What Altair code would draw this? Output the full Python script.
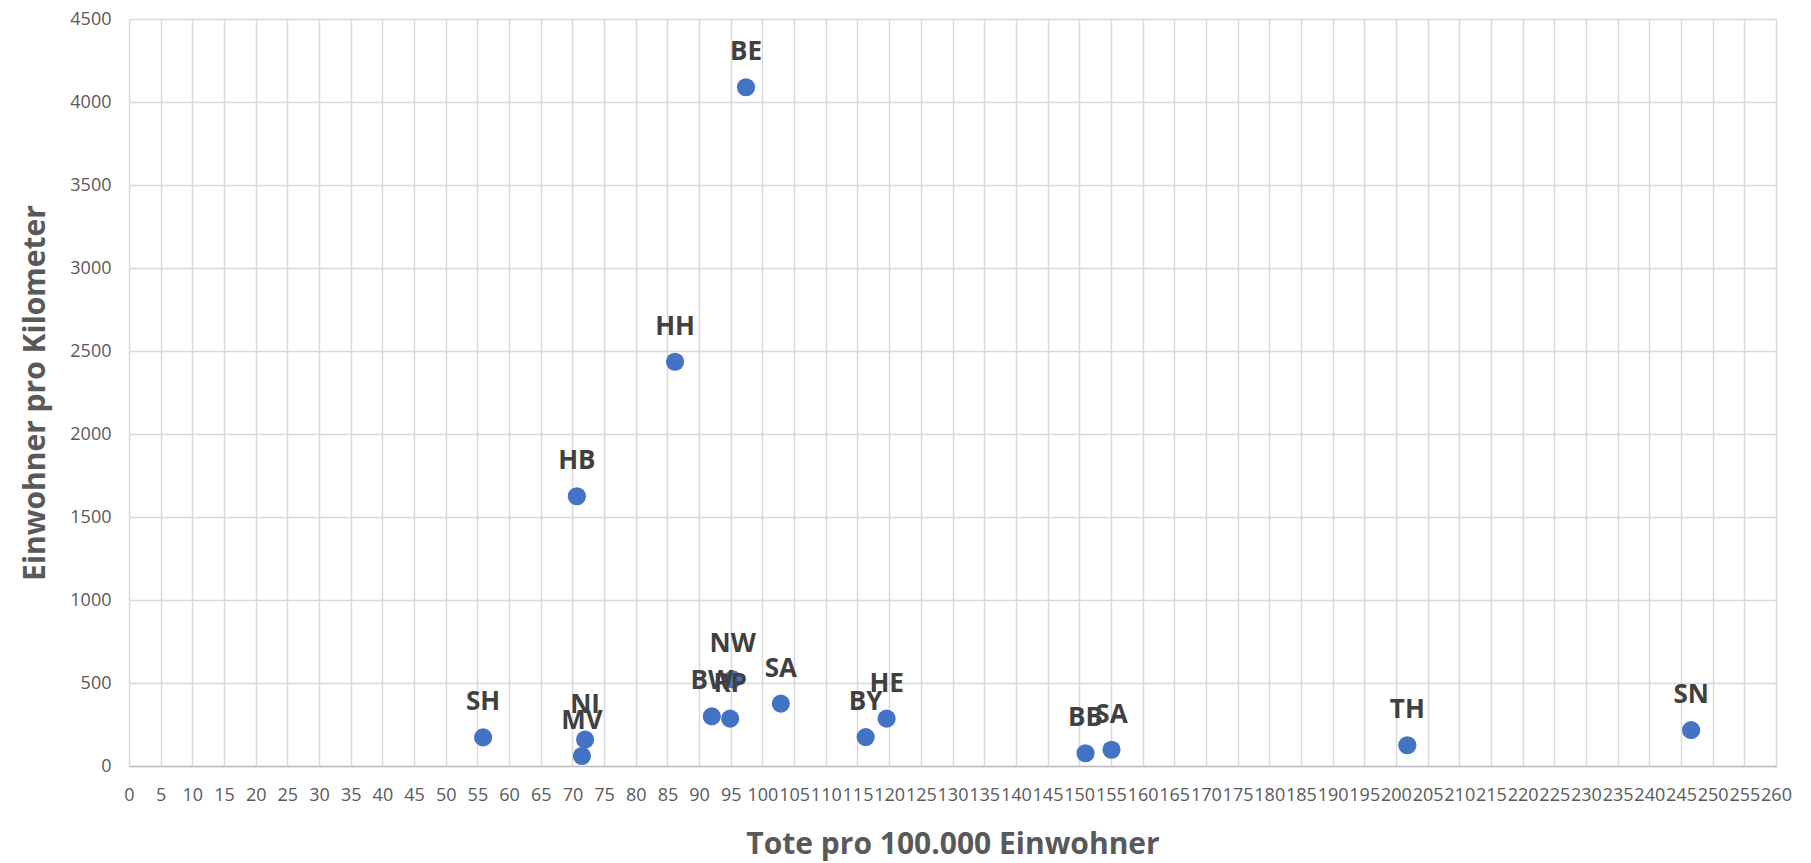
import altair as alt
import pandas as pd

codes = ["BE", "HH", "HB", "SH", "NI", "MV", "BW", "RP", "NW", "SA", "BY", "HE", "BB", "SA", "TH", "SN"]
tote = [97.4, 86.2, 70.7, 55.9, 72.0, 71.5, 92.0, 94.9, 95.3, 102.9, 116.3, 119.6, 151.0, 155.1, 201.8, 246.6]
dichte = [4089, 2435, 1625, 172, 159, 60, 299, 285, 522, 376, 174, 285, 77, 98, 125, 216]
x_ticks = list(range(0, 261, 5))
y_ticks = list(range(0, 4501, 500))

df = pd.DataFrame({"code": codes, "tote": tote, "dichte": dichte})

W, H = 1647, 747

x_enc = alt.X(
    "tote:Q",
    scale=alt.Scale(domain=[0, 260], nice=False, zero=False),
    axis=alt.Axis(
        title="Tote pro 100.000 Einwohner",
        values=x_ticks,
        format="d",
        labelOverlap=False,
        labelFlush=False,
        labelBound=False,
        labelFont="Open Sans",
        labelFontSize=18,
        labelColor="#595959",
        labelPadding=20,
        ticks=False,
        domainColor="#bfbfbf",
        domainWidth=1.5,
        gridColor="#d9d9d9",
        gridWidth=1.5,
        titleFont="Open Sans",
        titleFontSize=30,
        titleFontWeight="bold",
        titleColor="#595959",
        titleX=W / 2,
        titleY=78,
        titleBaseline="middle",
        titleAlign="center",
    ),
)
y_enc = alt.Y(
    "dichte:Q",
    scale=alt.Scale(domain=[0, 4500], nice=False),
    axis=alt.Axis(
        title="Einwohner pro Kilometer",
        values=y_ticks,
        format="d",
        labelFont="Open Sans",
        labelFontSize=18,
        labelColor="#595959",
        labelPadding=18,
        ticks=False,
        domain=False,
        gridColor="#d9d9d9",
        gridWidth=1.5,
        titleFont="Open Sans",
        titleFontSize=30,
        titleFontWeight="bold",
        titleColor="#595959",
        titleAngle=-90,
        titleX=-94,
        titleY=H / 2,
        titleBaseline="middle",
        titleAlign="center",
    ),
)

base = alt.Chart(df).encode(x=x_enc, y=y_enc)
points = base.mark_circle(size=330, color="#4472C4", opacity=1)
labels = base.mark_text(
    font="Open Sans", fontSize=26, fontWeight="bold", color="#404040",
    dy=-27, baseline="alphabetic", align="center",
).encode(text="code:N")

chart = (points + labels).properties(
    width=W,
    height=H,
    autosize=alt.AutoSizeParams(type="none"),
    padding={"left": 121, "top": 11, "right": 20, "bottom": 100},
).configure_view(stroke=None).configure_axis(gridOpacity=1)

chart.save("out.html", embed_options={"renderer": "svg", "actions": False})
